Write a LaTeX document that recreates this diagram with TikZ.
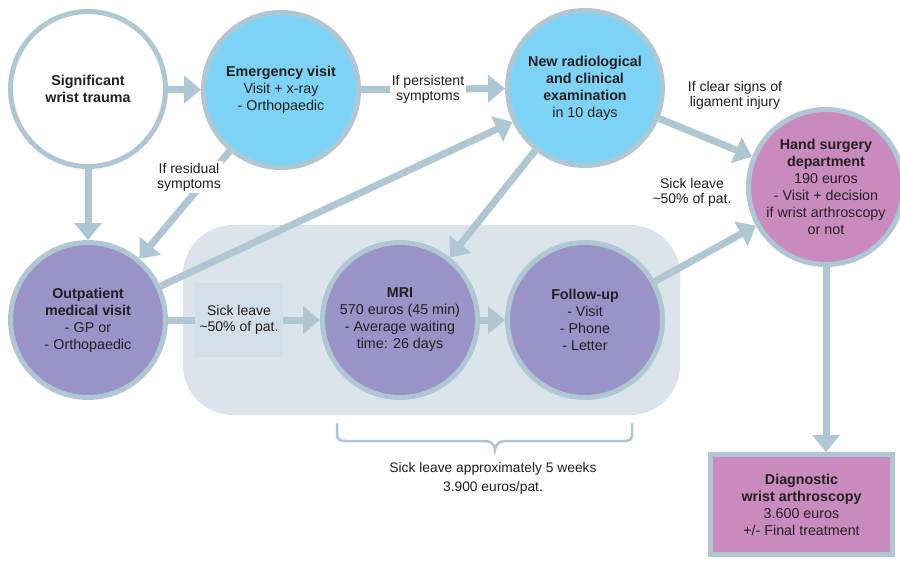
\documentclass[tikz,border=0pt]{standalone}
\usepackage{fontspec}
\setmainfont{Liberation Sans}
\usetikzlibrary{arrows.meta}
\definecolor{bord}{HTML}{AFC6D3}
\definecolor{cyanf}{HTML}{7DD3F5}
\definecolor{purf}{HTML}{9A93C8}
\definecolor{pinkf}{HTML}{C98BBE}
\definecolor{bgf}{HTML}{DCE4EB}
\definecolor{boxf}{HTML}{D3DFE8}
\definecolor{txt}{HTML}{231F20}
\begin{document}
\begin{tikzpicture}[x=1pt,y=-1pt,
  circ/.style={circle, draw=bord, line width=5pt, minimum size=155pt, inner sep=0pt},
  ctext/.style={align=center, text=txt, font=\fontsize{14.3}{17}\selectfont, inner sep=0pt},
  lbl/.style={align=center, text=txt, font=\fontsize{14}{14.8}\selectfont, inner sep=2pt},
  arr/.style={draw=bord, line width=7pt, -{Triangle[width=27pt,length=17pt]}},
  bracestyle/.style={draw=bord, line width=2.5pt, line cap=round}
]
\useasboundingbox (0,0) rectangle (900,560);
\fill[white] (0,0) rectangle (900,560);
% background group
\fill[bgf, rounded corners=50pt] (183,225) rectangle (680,415);

% circles
\node[circ, fill=white] (trauma) at (88,89) {};
\node[circ, fill=cyanf] (emerg) at (281,90) {};
\node[circ, fill=cyanf] (newrad) at (585,88) {};
\node[circ, fill=pinkf] (hand) at (826,187) {};
\node[circ, fill=purf] (outp) at (88,320) {};
\node[circ, fill=purf] (mri) at (400,320) {};
\node[circ, fill=purf] (follow) at (585,320) {};
\node[rectangle, draw=bord, line width=5pt, fill=pinkf, minimum width=182pt, minimum height=100pt, inner sep=0pt] (diag) at (801.5,504.5) {};

% connectors
\draw[arr] (trauma) -- (emerg);
\draw[arr] (emerg) -- (newrad);
\draw[arr] (trauma) -- (outp);
\draw[arr] (emerg) -- (outp);
\draw[arr] (outp) -- (newrad);
\draw[arr] (newrad) -- (mri);
\draw[arr] (outp) -- (mri);
\draw[arr] (mri) -- (follow);
\draw[arr] (newrad) -- (hand);
\draw[arr] (follow) -- (hand);
\draw[arr] (hand) -- (hand |- diag.north);

% labels
\node[lbl, fill=white] (lpersist) at (428,89) {If persistent\\symptoms};
\node[lbl, fill=white] (lresid) at (189,177) {If residual\\symptoms};
\node[lbl, fill=white] (lclear) at (735,95) {If clear signs of\\ligament injury};
\node[lbl] (lsick2) at (692,192) {Sick leave\\\textasciitilde 50\% of pat.};
\node[lbl, fill=boxf, minimum width=88pt, minimum height=74pt, inner sep=0pt, font=\fontsize{14}{16}\selectfont] (lsick1) at (239,320) {Sick leave\\\textasciitilde 50\% of pat.};

% circle texts
\node[ctext] (ttrauma) at (trauma) {\textbf{Significant}\\\textbf{wrist trauma}};
\node[ctext] (temerg) at (emerg) {\textbf{Emergency visit}\\Visit + x-ray\\- Orthopaedic};
\node[ctext] (tnewrad) at (newrad) {\textbf{New radiological}\\\textbf{and clinical}\\\textbf{examination}\\in 10 days};
\node[ctext] (thand) at (hand) {\textbf{Hand surgery}\\\textbf{department}\\190 euros\\- Visit + decision\\if wrist arthroscopy\\or not};
\node[ctext] (toutp) at (outp) {\textbf{Outpatient}\\\textbf{medical visit}\\- GP or\\- Orthopaedic};
\node[ctext] (tmri) at (mri) {\textbf{MRI}\\570 euros (45 min)\\- Average waiting\\time: 26 days};
\node[ctext] (tfollow) at (follow) {\textbf{Follow-up}\\- Visit\\- Phone\\- Letter};
\node[ctext] (tdiag) at (diag) {\textbf{Diagnostic}\\\textbf{wrist arthroscopy}\\3.600 euros\\+/- Final treatment};

% brace
\draw[bracestyle] (337,424) -- (337,434) .. controls (337,440) and (340,441) .. (346,441) -- (484,441) .. controls (490,441) and (494,443) .. (495,450) .. controls (496,443) and (500,441) .. (506,441) -- (623,441) .. controls (629,441) and (632,440) .. (632,434) -- (632,424);
\node[lbl, font=\fontsize{13.8}{19}\selectfont] (lbrace) at (493,478) {Sick leave approximately 5 weeks\\3.900 euros/pat.};
\end{tikzpicture}
\end{document}
